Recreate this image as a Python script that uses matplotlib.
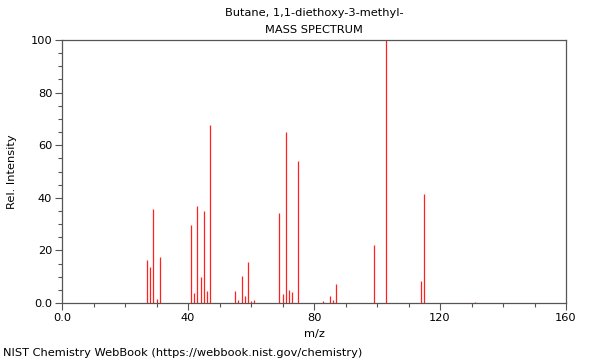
import matplotlib
matplotlib.use("Agg")
import matplotlib.pyplot as plt
from matplotlib.ticker import MultipleLocator, FixedLocator, FixedFormatter

mz = [27, 28, 29, 30, 31, 41, 42, 43, 44, 45, 46, 47, 55, 56, 57, 58, 59, 60, 61,
      69, 70, 71, 72, 73, 75, 83, 85, 86, 87, 99, 103, 114, 115, 131]
intensity = [16.4, 13.5, 35.8, 1.5, 17.5, 29.6, 3.8, 36.8, 9.7, 35.0, 4.7, 67.8,
             4.4, 1.3, 10.4, 2.5, 15.7, 0.7, 1.3,
             34.2, 3.4, 65.0, 4.9, 4.3, 54.0, 0.9, 2.6, 1.3, 7.4, 22.2, 100.0,
             8.5, 41.3, 0.5]

x_ticks = [0, 40, 80, 120, 160]
x_tick_labels = ["0.0", "40", "80", "120", "160"]
y_ticks = [0, 20, 40, 60, 80, 100]
y_tick_labels = ["0.0", "20", "40", "60", "80", "100"]

title_line1 = "Butane, 1,1-diethoxy-3-methyl-"
title_line2 = "MASS SPECTRUM"
credit = "NIST Chemistry WebBook (https://webbook.nist.gov/chemistry)"

fs = 8.2
fig = plt.figure(figsize=(6, 3.6), dpi=100)
ax = fig.add_axes([62/600, 1-303/360, (566-62)/600, (303-40)/360])

ax.vlines(mz, 0, intensity, colors="#ff2020", linewidth=0.9)

ax.set_xlim(0, 160)
ax.set_ylim(0, 100)
ax.xaxis.set_major_locator(FixedLocator(x_ticks))
ax.xaxis.set_major_formatter(FixedFormatter(x_tick_labels))
ax.xaxis.set_minor_locator(MultipleLocator(10))
ax.yaxis.set_major_locator(FixedLocator(y_ticks))
ax.yaxis.set_major_formatter(FixedFormatter(y_tick_labels))
ax.yaxis.set_minor_locator(MultipleLocator(5))

for s in ax.spines.values():
    s.set_color("#555555")
    s.set_linewidth(0.9)
ax.tick_params(which="major", length=5, width=0.8, color="#555555", labelsize=fs, pad=2)
ax.tick_params(which="minor", length=3, width=0.8, color="#555555")

ax.set_xlabel("m/z", fontsize=fs)
ax.xaxis.set_label_coords(0.5, -(329-303)/263, transform=ax.transAxes)
ax.set_ylabel("Rel. Intensity", fontsize=fs)
ax.yaxis.set_label_coords(-(62-17)/504, 0.5, transform=ax.transAxes)

fig.text(0.5 + (314-300)/600, 1-13/360, title_line1, ha="center", va="center", fontsize=fs)
fig.text(0.5 + (314-300)/600, 1-30/360, title_line2, ha="center", va="center", fontsize=fs)
fig.text(3/600, 1-353/360, credit, ha="left", va="center", fontsize=fs)

fig.savefig("out.png", dpi=100)
